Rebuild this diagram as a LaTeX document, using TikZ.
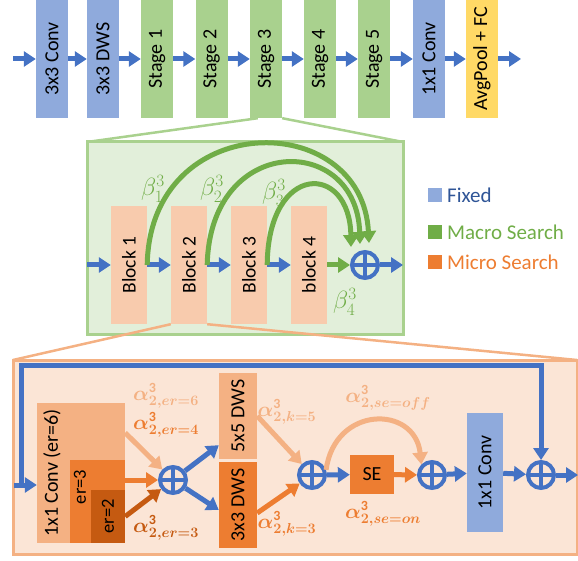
\documentclass[tikz,border=0pt]{standalone}
\usepackage{amsmath,amssymb,graphicx}
\usepackage{fontspec}
\setmainfont{Carlito}
\usetikzlibrary{arrows.meta,calc}

\definecolor{fixedblue}{HTML}{8FAADC}
\definecolor{stagegreen}{HTML}{A9D18E}
\definecolor{fcyellow}{HTML}{FFD966}
\definecolor{arrowblue}{HTML}{4472C4}
\definecolor{textblue}{HTML}{2F5597}
\definecolor{macrogreen}{HTML}{70AD47}
\definecolor{microorange}{HTML}{ED7D31}
\definecolor{lightorange}{HTML}{F4B183}
\definecolor{darkorange}{HTML}{C55A11}
\definecolor{blockpeach}{HTML}{F8CBAD}
\definecolor{panelgreen}{HTML}{E2EFDA}
\definecolor{panelpeach}{HTML}{FBE5D6}

\newcommand{\alab}[1]{$\boldsymbol{\alpha}^{\mathbf{3}}_{\boldsymbol{#1}}$}

\begin{document}
\begin{tikzpicture}[x=1pt,y=-1pt,
	bx/.style={inner sep=0,font=\fontsize{20}{22}\selectfont},
	topbox/.style={bx,minimum width=32pt,minimum height=118pt},
	blockbox/.style={bx,fill=blockpeach,minimum width=36pt,minimum height=118pt,font=\fontsize{19.5}{22}\selectfont},
	barrow/.style={-{Triangle[length=12pt,width=15pt]},line width=5pt,arrowblue},
	garrow/.style={-{Triangle[length=12pt,width=15pt]},line width=5pt,macrogreen},
	oarrow/.style={-{Triangle[length=12pt,width=15pt]},line width=5pt,#1},
	oplus/.style={circle,draw=arrowblue,line width=4pt,minimum size=26pt,inner sep=0,
		path picture={\draw[arrowblue,line width=4pt] (path picture bounding box.north)--(path picture bounding box.south) (path picture bounding box.west)--(path picture bounding box.east);}},
	beta/.style={macrogreen,font=\fontsize{27}{30}\selectfont,inner sep=0},
	alpha/.style={#1,font=\fontsize{20}{22}\selectfont,inner sep=0},
	legend/.style={anchor=west,font=\fontsize{21}{24}\selectfont,inner sep=0}
]
	\useasboundingbox (0,0) rectangle (578,561);

	% top row
	\foreach \n/\x/\c/\t in {1/52/fixedblue/3x3 Conv,2/103/fixedblue/3x3 DWS,3/157/stagegreen/Stage 1,
		4/211.5/stagegreen/Stage 2,5/266/stagegreen/Stage 3,6/320/stagegreen/Stage 4,7/374/stagegreen/Stage 5,
		8/429/fixedblue/1x1 Conv,9/482/fcyellow/AvgPool + FC}
		\node[topbox,fill=\c] (t\n) at (\x,59) {\rotatebox{90}{\t}};
	\path (13,59) coordinate (tin) (521,59) coordinate (tout);
	\draw[barrow] (tin) -- (t1);
	\foreach \a/\b in {1/2,2/3,3/4,4/5,5/6,6/7,7/8,8/9} \draw[barrow] (t\a) -- (t\b);
	\draw[barrow] (t9) -- (tout);

	% stage 3 panel
	\draw[stagegreen,line width=2.5pt] ([xshift=8pt]t5.south west) -- (87,142) (t5.south east) -- (403,142);
	\draw[stagegreen,line width=3pt,fill=panelgreen] (87,142) rectangle (403,334);
	\foreach \n/\x/\t in {1/129/Block 1,2/189/Block 2,3/249/Block 3,4/309/block 4}
		\node[blockbox] (b\n) at (\x,265) {\rotatebox{90}{\t}};
	\node[oplus] (mplus) at (365,265) {};
	\path (87,265) coordinate (min) (403,265) coordinate (mout);
	\draw[barrow] (min) -- (b1);
	\foreach \a/\b in {1/2,2/3,3/4} \draw[barrow] (b\a) -- (b\b);
	\draw[garrow] (b4) -- (mplus);
	\draw[barrow] (mplus) -- (mout);
	\draw[garrow] (b1.east) .. controls (150,108) and (362,108) .. (369,243);
	\draw[garrow] (b2.east) .. controls (210,133) and (357,133) .. (360,244);
	\draw[garrow] (b3.east) .. controls (268,162) and (350,162) .. (351,247);
	\node[beta] (be1) at (153,189) {$\beta_1^3$};
	\node[beta] (be2) at (212,189) {$\beta_2^3$};
	\node[beta] (be3) at (274,193) {$\beta_3^3$};
	\node[beta] (be4) at (345,302) {$\beta_4^3$};

	% legend
	\foreach \n/\y/\c/\tc/\t in {fx/195/fixedblue/textblue/Fixed,ma/232/macrogreen/macrogreen/Macro Search,mi/262/microorange/microorange/Micro Search} {
		\node[fill=\c,minimum size=14pt,inner sep=0] (l\n) at (435,\y) {};
		\node[legend,text=\tc] (lt\n) at (447,\y) {\t};
	}

	% block 2 panel
	\draw[lightorange,line width=2.5pt] (b2.south west) -- (13,360) (b2.south east) -- (577,360);
	\draw[lightorange,line width=3pt,fill=panelpeach] (13,360) rectangle (577,554);
	\node[bx,fill=lightorange,minimum width=88pt,minimum height=140pt] (c6) at (81,473) {};
	\node[bx] (c6t) at (52,473) {\rotatebox{90}{1x1 Conv (er=6)}};
	\node[bx,fill=microorange,minimum width=55pt,minimum height=83pt] (c3) at (97.5,501.5) {};
	\node[bx,font=\fontsize{18.5}{20}\selectfont] (c3t) at (80,487) {\rotatebox{90}{er=3}};
	\node[bx,fill=darkorange,minimum width=34pt,minimum height=53pt,font=\fontsize{18.5}{20}\selectfont] (c2) at (108,516.5) {\rotatebox{90}{er=2}};
	\node[oplus] (p1) at (173,480) {};
	\draw[oarrow=lightorange] ($(c6.north east)+(0,30)$) -- (p1);
	\draw[oarrow=microorange] (c3.east |- p1) -- (p1);
	\draw[oarrow=darkorange] (c2.east) -- (p1);
	\node[alpha=lightorange] (a6) at (166,396) {\alab{2,er=6}};
	\node[alpha=microorange] (a4) at (166,425) {\alab{2,er=4}};
	\node[alpha=darkorange] (a3) at (166,528) {\alab{2,er=3}};

	\node[bx,fill=lightorange,minimum width=38pt,minimum height=86pt] (d5) at (238,416) {\rotatebox{90}{5x5 DWS}};
	\node[bx,fill=microorange,minimum width=38pt,minimum height=86pt] (d3) at (238,505) {\rotatebox{90}{3x3 DWS}};
	\draw[barrow] (p1) -- ($(d5.south west)+(0,-14)$);
	\draw[barrow] (p1) -- ($(d3.west)+(0,5)$);
	\node[oplus] (p2) at (312,475) {};
	\draw[oarrow=lightorange] (d5.east) -- (p2);
	\draw[oarrow=microorange] ($(d3.east)+(0,8)$) -- (p2);
	\node[alpha=lightorange] (ak5) at (287,412) {\alab{2,k=5}};
	\node[alpha=microorange] (ak3) at (287,524) {\alab{2,k=3}};

	\node[bx,fill=microorange,minimum width=44pt,minimum height=39pt] (se) at (372,474.5) {SE};
	\node[oplus] (p3) at (432,475) {};
	\draw[barrow] (p2) -- (se);
	\draw[oarrow=microorange] (se) -- (p3);
	\draw[oarrow=lightorange] (p2.20) .. controls (335,405) and (415,405) .. (p3.135);
	\node[alpha=lightorange] (aoff) at (388,398) {\alab{2,se=off}};
	\node[alpha=microorange] (aon) at (383,514) {\alab{2,se=on}};

	\node[bx,fill=fixedblue,minimum width=36pt,minimum height=119pt] (o1) at (485,472.5) {\rotatebox{90}{1x1 Conv}};
	\node[oplus] (p4) at (541,475) {};
	\draw[barrow] (p3) -- (o1);
	\draw[barrow] (o1) -- (p4);
	\path (578,475) coordinate (pout) (14,485) coordinate (lin) (21,365) coordinate (sk);
	\draw[barrow] (p4) -- (pout);
	\draw[barrow] (lin) -- (c6.west |- lin);
	\draw[barrow] (lin -| sk) -- (sk) -| (p4);
\end{tikzpicture}
\end{document}
